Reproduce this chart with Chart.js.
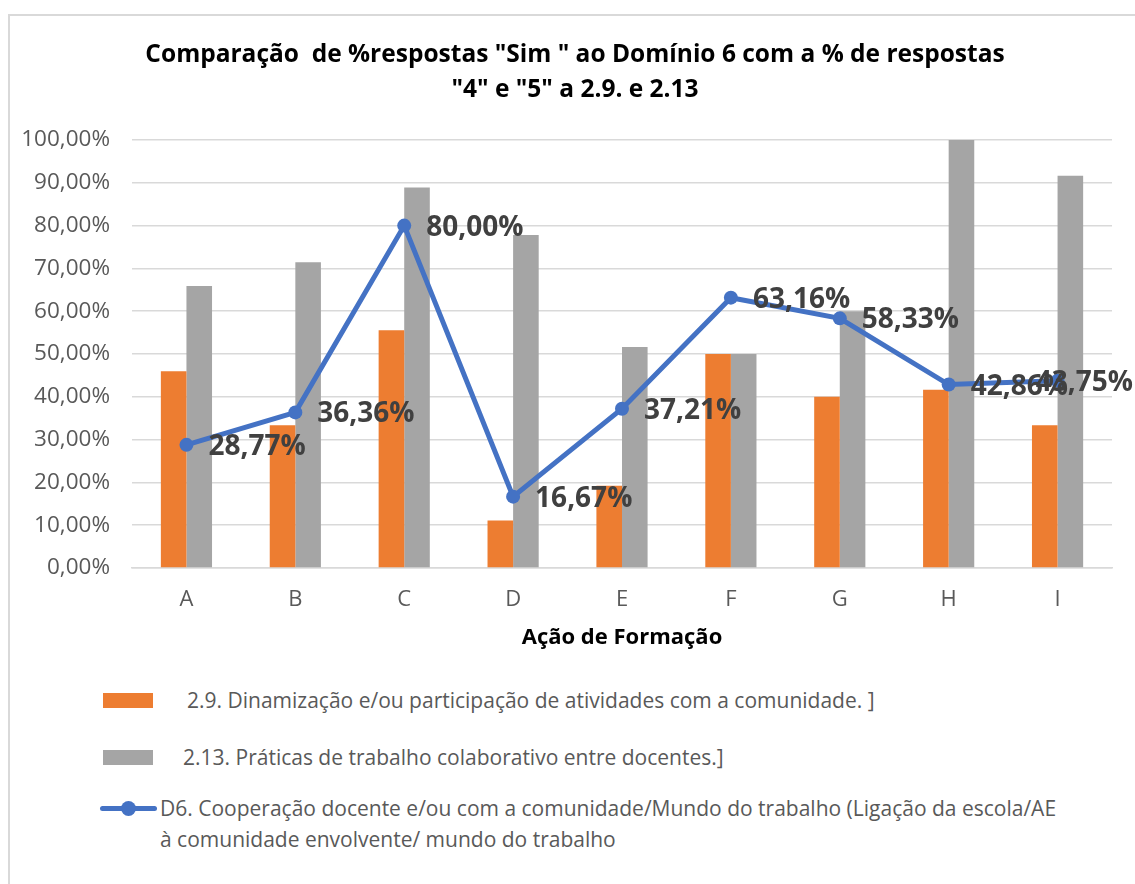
<!DOCTYPE html>
<html>
<head>
<meta charset="utf-8">
<script src="https://cdn.jsdelivr.net/npm/chart.js@4.4.1/dist/chart.umd.min.js"></script>
<style>
  body { margin: 0; background: #fff; font-family: 'Open Sans', sans-serif; }
  #frame { position: absolute; left: 8px; top: 14px; width: 1200px; height: 900px; border: 2px solid #d9d9d9; box-sizing: border-box; }
  #wrap { position: absolute; left: 0; top: 0; width: 1135px; height: 670px; }
  #legend { position: absolute; left: 100px; top: 688px; color: #595959; font-size: 21px; }
  .item { position: relative; height: 24px; line-height: 24px; margin-bottom: 33px; }
  .item .box { position: absolute; left: 3px; top: 5px; width: 50px; height: 15px; }
  .item .txt { position: absolute; white-space: nowrap; }
  .item .ln { position: absolute; left: 0; top: 4px; width: 57px; height: 5px; border-radius: 3px; }
  .item .dot { position: absolute; left: 21px; top: -1px; width: 15px; height: 15px; border-radius: 50%; }
</style>
</head>
<body>
<div id="frame"></div>
<div id="wrap"><canvas id="chart"></canvas></div>
<div id="legend"></div>
<script>
  const categories = ['A', 'B', 'C', 'D', 'E', 'F', 'G', 'H', 'I'];
  const serie29 = [45.95, 33.33, 55.56, 11.11, 19.23, 50.0, 40.0, 41.67, 33.33];
  const serie213 = [65.91, 71.43, 88.89, 77.78, 51.61, 50.0, 60.0, 100.0, 91.67];
  const serieD6 = [28.77, 36.36, 80.0, 16.67, 37.21, 63.16, 58.33, 42.86, 43.75];

  const titleLines = ['Comparação  de %respostas "Sim " ao Domínio 6 com a % de respostas', '"4" e "5" a 2.9. e 2.13'];
  const label29 = '2.9. Dinamização e/ou participação de atividades com a comunidade. ]';
  const label213 = '2.13. Práticas de trabalho colaborativo entre docentes.]';
  const labelD6 = ['D6. Cooperação docente e/ou com a comunidade/Mundo do trabalho (Ligação da escola/AE', 'à comunidade envolvente/ mundo do trabalho'];

  var orange = '#ED7D31';
  var gray = '#A5A5A5';
  var blue = '#4472C4';
  var textColor = '#595959';
  var gridColor = '#d9d9d9';
  var fontFamily = "'Open Sans', sans-serif";

  function pct(v) {
    return v.toFixed(2).replace('.', ',') + '%';
  }

  // labels next to the line points, kept inside the canvas like Excel does
  var pointLabels = {
    id: 'pointLabels',
    afterDatasetsDraw(chart) {
      var ctx = chart.ctx;
      var meta = chart.getDatasetMeta(2);
      ctx.save();
      ctx.font = 'bold 28px ' + fontFamily;
      ctx.fillStyle = '#404040';
      ctx.textAlign = 'left';
      ctx.textBaseline = 'middle';
      meta.data.forEach(function (pt, i) {
        var txt = pct(serieD6[i]);
        var w = ctx.measureText(txt).width;
        var x = Math.min(pt.x + 22, chart.width - w - 2);
        ctx.fillText(txt, x, pt.y + 2);
      });
      ctx.restore();
    }
  };

  // title centred on the whole frame (not on the plot area)
  var frameTitle = {
    id: 'frameTitle',
    afterDraw(chart) {
      var ctx = chart.ctx;
      ctx.save();
      ctx.font = 'bold 24.5px ' + fontFamily;
      ctx.fillStyle = '#000';
      ctx.textAlign = 'center';
      ctx.textBaseline = 'middle';
      titleLines.forEach(function (line, i) {
        ctx.fillText(line, 575, 55 + i * 35);
      });
      ctx.restore();
    }
  };

  Chart.defaults.font.family = fontFamily;
  Chart.defaults.color = textColor;

  var chart = new Chart(document.getElementById('chart'), {
    type: 'bar',
    data: {
      labels: categories,
      datasets: [
        { label: label29, data: serie29, backgroundColor: orange, order: 1 },
        { label: label213, data: serie213, backgroundColor: gray, order: 1 },
        {
          type: 'line',
          label: labelD6,
          data: serieD6,
          borderColor: blue,
          backgroundColor: blue,
          borderWidth: 5,
          pointRadius: 7,
          pointBorderWidth: 0,
          tension: 0,
          order: 0
        }
      ]
    },
    options: {
      responsive: true,
      maintainAspectRatio: false,
      animation: false,
      layout: { padding: { left: 0, right: 23, top: 140, bottom: 12 } },
      datasets: { bar: { barPercentage: 1, categoryPercentage: 0.47 } },
      plugins: {
        legend: { display: false },
        tooltip: { enabled: false },
        title: { display: false }
      },
      scales: {
        x: {
          grid: { display: false, drawTicks: false },
          border: { color: gridColor, width: 1.5 },
          ticks: { padding: 19, font: { size: 22 }, color: textColor },
          title: {
            display: true,
            text: 'Ação de Formação',
            color: '#000',
            font: { size: 22, weight: 'bold' },
            padding: { top: 8, bottom: 7 }
          },
          afterFit: function (scale) { scale.height = 90; }
        },
        y: {
          min: 0,
          max: 100,
          grid: { color: gridColor, lineWidth: 1.5, drawTicks: false },
          border: { display: false },
          ticks: { stepSize: 10, padding: 22, font: { size: 22.5 }, color: textColor, callback: function (v) { return pct(v); } },
          afterFit: function (scale) { scale.width = 132; }
        }
      }
    },
    plugins: [pointLabels, frameTitle]
  });

  // legend below the chart, built from the datasets
  var legend = document.getElementById('legend');
  chart.data.datasets.forEach(function (ds, i) {
    var item = document.createElement('div');
    item.className = 'item';
    var text = Array.isArray(ds.label) ? ds.label.join('<br>') : ds.label;
    if (ds.type === 'line') {
      item.innerHTML = '<span class="ln" style="background:' + ds.borderColor + '"></span>' +
        '<span class="dot" style="background:' + ds.borderColor + '"></span>' +
        '<span class="txt" style="left:60px;line-height:31px;top:-9px">' + text + '</span>';
    } else {
      item.innerHTML = '<span class="box" style="background:' + ds.backgroundColor + '"></span>' +
        '<span class="txt" style="left:' + (i === 0 ? 87 : 83) + 'px">' + text + '</span>';
    }
    legend.appendChild(item);
  });
</script>
</body>
</html>
